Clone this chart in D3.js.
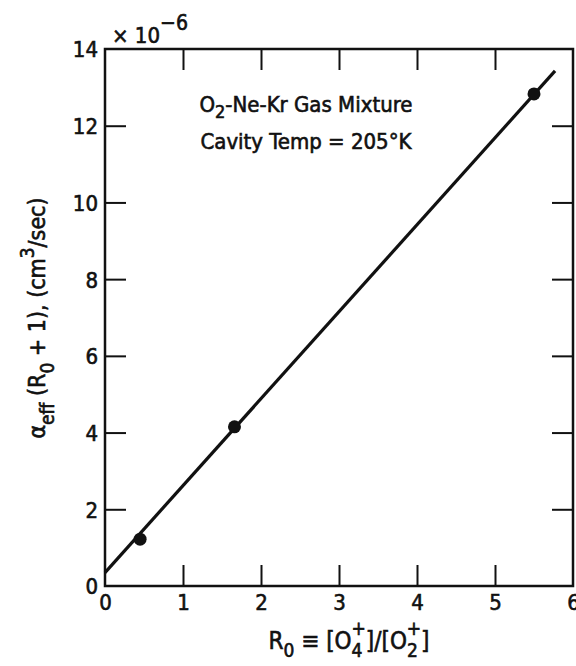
<!DOCTYPE html>
<html><head><meta charset="utf-8">
<script src="https://cdn.jsdelivr.net/npm/d3@7"></script>
<style>
html,body{margin:0;padding:0;background:#fff;}
svg text{font-family:"DejaVu Sans Condensed","DejaVu Sans",sans-serif;font-stretch:condensed;fill:#111;stroke:#111;stroke-width:0.6px;}
</style></head>
<body>
<svg id="chart" width="576" height="666"></svg>
<script>
// ---- data ----
const xTickValues = [0, 1, 2, 3, 4, 5, 6];
const yTickValues = [0, 2, 4, 6, 8, 10, 12, 14];
const R0 = [0.45, 1.66, 5.5];
const alphaR = [1.22, 4.15, 12.83];
const fitX = [0, 5.77];
const fitY = [0.35, 13.43];

const svg = d3.select("#chart");
const m = {left:105, top:49, right:3, bottom:80};
const W = 576 - m.left - m.right, H = 666 - m.top - m.bottom;
const g = svg.append("g").attr("transform", `translate(${m.left},${m.top})`);

const x = d3.scaleLinear().domain([0, 6]).range([0, W]);
const y = d3.scaleLinear().domain([0, 14]).range([H, 0]);

const tick = 21;
const inner = v => v.filter((d,i,a)=> i>0 && i<a.length-1);

const xb = g.append("g").attr("transform", `translate(0,${H})`)
  .call(d3.axisBottom(x).tickValues(xTickValues).tickSizeInner(-tick).tickSizeOuter(0).tickPadding(8).tickFormat(d3.format("d")));
const yl = g.append("g")
  .call(d3.axisLeft(y).tickValues(yTickValues).tickSizeInner(-tick).tickSizeOuter(0).tickPadding(7).tickFormat(d3.format("d")));
const xt = g.append("g")
  .call(d3.axisTop(x).tickValues(inner(xTickValues)).tickSizeInner(-tick).tickSizeOuter(0).tickFormat(""));
const yr = g.append("g").attr("transform", `translate(${W},0)`)
  .call(d3.axisRight(y).tickValues(inner(yTickValues)).tickSizeInner(-tick).tickSizeOuter(0).tickFormat(""));

[xb, yl, xt, yr].forEach(a => {
  a.select(".domain").remove();
  a.selectAll(".tick line").attr("stroke", "#111").attr("stroke-width", 2);
  a.selectAll(".tick text").style("font-size", "22px").attr("fill", "#111");
});
xb.selectAll(".tick line").filter(d => d === 0 || d === 6).remove();
yl.selectAll(".tick line").filter(d => d === 0 || d === 14).remove();
yl.selectAll(".tick text").attr("dy", "0.36em");

g.append("rect").attr("x", 0).attr("y", 0).attr("width", W).attr("height", H)
  .attr("fill", "none").attr("stroke", "#111").attr("stroke-width", 2.5);

g.append("line")
  .attr("x1", x(fitX[0])).attr("y1", y(fitY[0]))
  .attr("x2", x(fitX[1])).attr("y2", y(fitY[1]))
  .attr("stroke", "#111").attr("stroke-width", 3.2);

g.selectAll("circle.pt").data(R0).enter().append("circle")
  .attr("class", "pt")
  .attr("cx", d => x(d)).attr("cy", (d, i) => y(alphaR[i])).attr("r", 6.5)
  .attr("fill", "#111");

const mult = svg.append("text").attr("x", 112).attr("y", 43).style("font-size", "22px");
mult.append("tspan").text("× 10");
mult.append("tspan").attr("dy", -13).style("font-size", "21px").text("−6");

const a1 = svg.append("text").attr("x", 306).attr("y", 112).attr("text-anchor", "middle").style("font-size", "22px");
a1.append("tspan").text("O");
a1.append("tspan").attr("dy", 6).style("font-size", "18px").text("2");
a1.append("tspan").attr("dy", -6).text("-Ne-Kr Gas Mixture");
svg.append("text").attr("x", 306).attr("y", 149).attr("text-anchor", "middle").style("font-size", "22px")
  .text("Cavity Temp = 205°K");

const xtTxt = svg.append("text").attr("x", 349).attr("y", 649).attr("text-anchor", "middle").style("font-size", "24px");
xtTxt.append("tspan").text("R");
xtTxt.append("tspan").attr("dy", 8).style("font-size", "19px").text("0");
xtTxt.append("tspan").attr("dy", -8).text(" ≡ [O");
xtTxt.append("tspan").attr("dy", 8).style("font-size", "19px").text("4");
xtTxt.append("tspan").attr("dx", -11).attr("dy", -22).style("font-size", "19px").text("+");
xtTxt.append("tspan").attr("dy", 14).text("]/[O");
xtTxt.append("tspan").attr("dy", 8).style("font-size", "19px").text("2");
xtTxt.append("tspan").attr("dx", -11).attr("dy", -22).style("font-size", "19px").text("+");
xtTxt.append("tspan").attr("dy", 14).text("]");

const yt = svg.append("text").attr("transform", "translate(45,318) rotate(-90)")
  .attr("text-anchor", "middle").style("font-size", "23px");
yt.append("tspan").text("α");
yt.append("tspan").attr("dy", 9).style("font-size", "19px").text("eff");
yt.append("tspan").attr("dy", -9).text(" (R");
yt.append("tspan").attr("dy", 9).style("font-size", "19px").text("0");
yt.append("tspan").attr("dy", -9).text(" + 1),  (cm");
yt.append("tspan").attr("dy", -11).style("font-size", "19px").text("3");
yt.append("tspan").attr("dy", 11).text("/sec)");
</script>
</body></html>
